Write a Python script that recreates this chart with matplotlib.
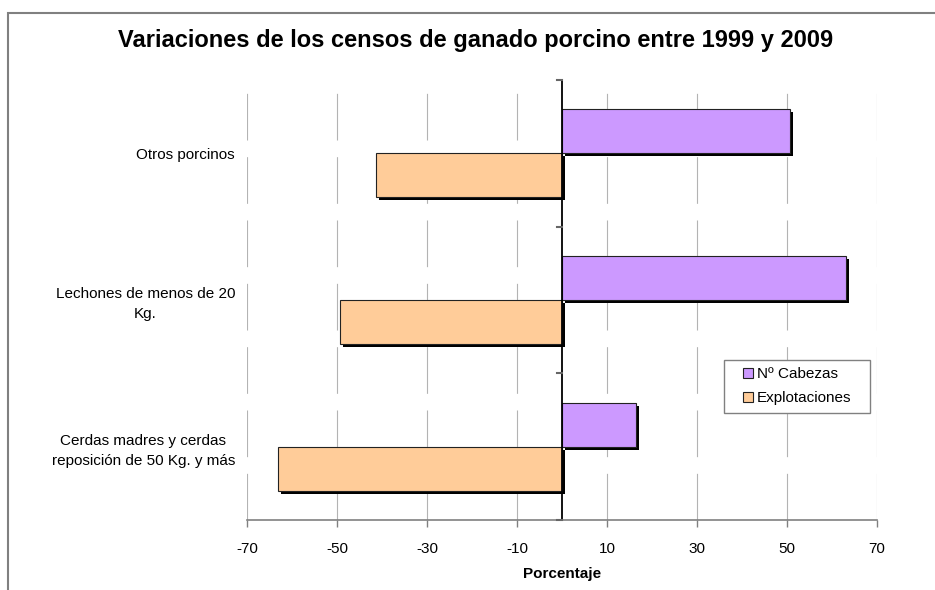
"""
Variaciones de los censos de ganado porcino entre 1999 y 2009
Barras horizontales: Nº Cabezas vs Explotaciones (porcentaje)
"""
import matplotlib
matplotlib.use('Agg')
import matplotlib.pyplot as plt
import matplotlib.patheffects as pe
from matplotlib.patches import Rectangle

plt.rcParams['font.family'] = ['Liberation Sans', 'DejaVu Sans']

# Datos (de abajo hacia arriba)
categorias = ['Cerdas madres y cerdas\nreposición de 50 Kg. y más',
              'Lechones de menos de 20\nKg.',
              'Otros porcinos']
cabezas = [16.4, 63.1, 50.7]
explotaciones = [-63.1, -49.3, -41.3]
xticks = [-70, -50, -30, -10, 10, 30, 50, 70]

W, H = 935, 590
fig = plt.figure(figsize=(W/100, H/100), dpi=100)
ax = fig.add_axes([247/W, 1-520/H, 630/W, 440/H])

# marco exterior del grafico
fig.patches.append(Rectangle((8/W, -0.1), 1.1, 1-13/H+0.1, transform=fig.transFigure,
                             fill=False, edgecolor='#808080', linewidth=1.5))

# rejilla vertical discontinua
for x in xticks:
    ax.axvline(x, color='#b3b3b3', linewidth=0.8, dashes=(42, 15), zorder=0)

shadow = [pe.SimplePatchShadow(offset=(2.2, -2.2), shadow_rgbFace='black', alpha=1), pe.Normal()]
pos = [i + 0.5 for i in range(len(categorias))]
h = 0.3
b1 = ax.barh([p + h/2 for p in pos], cabezas, height=h, color='#CC99FF',
             edgecolor='#222222', linewidth=0.8, label='Nº Cabezas', zorder=3)
b2 = ax.barh([p - h/2 for p in pos], explotaciones, height=h, color='#FFCC99',
             edgecolor='#222222', linewidth=0.8, label='Explotaciones', zorder=3)
for r in list(b1) + list(b2):
    r.set_path_effects(shadow)

# eje vertical en cero con marcas entre categorias
ax.axvline(0, color='black', linewidth=1.3, zorder=4)
for yb in range(len(categorias) + 1):
    ax.plot([-1.2, 0], [yb, yb], color='#666666', linewidth=1.5, zorder=4, clip_on=False)

ax.set_xlim(-70, 70)
ax.set_ylim(0, 3)
ax.set_xticks(xticks)
ax.set_xticklabels([str(x) for x in xticks], fontsize=11)
ax.set_yticks(pos)
ax.set_yticklabels(categorias, fontsize=11, multialignment='center', linespacing=1.5)
ax.tick_params(axis='y', length=0, pad=8.6)
ax.tick_params(axis='x', length=5, color='#808080', width=1, pad=10.5)

for s in ['top', 'right', 'left']:
    ax.spines[s].set_visible(False)
ax.spines['bottom'].set_color('#808080')
ax.spines['bottom'].set_linewidth(1.2)

ax.set_xlabel('Porcentaje', fontsize=11, fontweight='bold', labelpad=8)

fig.text(476/W, 1-40/H, 'Variaciones de los censos de ganado porcino entre 1999 y 2009',
         ha='center', va='center', fontsize=17, fontweight='bold')

# leyenda: caja dibujada aparte, como en Excel
ax.add_patch(Rectangle((724/W, 1-413/H), 146/W, 53/H, transform=fig.transFigure,
                       facecolor='white', edgecolor='#808080', linewidth=1,
                       zorder=5, clip_on=False))
leg = ax.legend(handles=[b1, b2], loc='upper left', bbox_to_anchor=(743/W, 1-367/H),
                bbox_transform=fig.transFigure, fontsize=11, frameon=False,
                handlelength=0.65, handleheight=0.65, handletextpad=0.25, borderpad=0,
                labelspacing=0.68, borderaxespad=0)
leg.set_zorder(6)
for hnd in leg.legend_handles:
    hnd.set_path_effects([])

fig.savefig('out.png', dpi=100)
